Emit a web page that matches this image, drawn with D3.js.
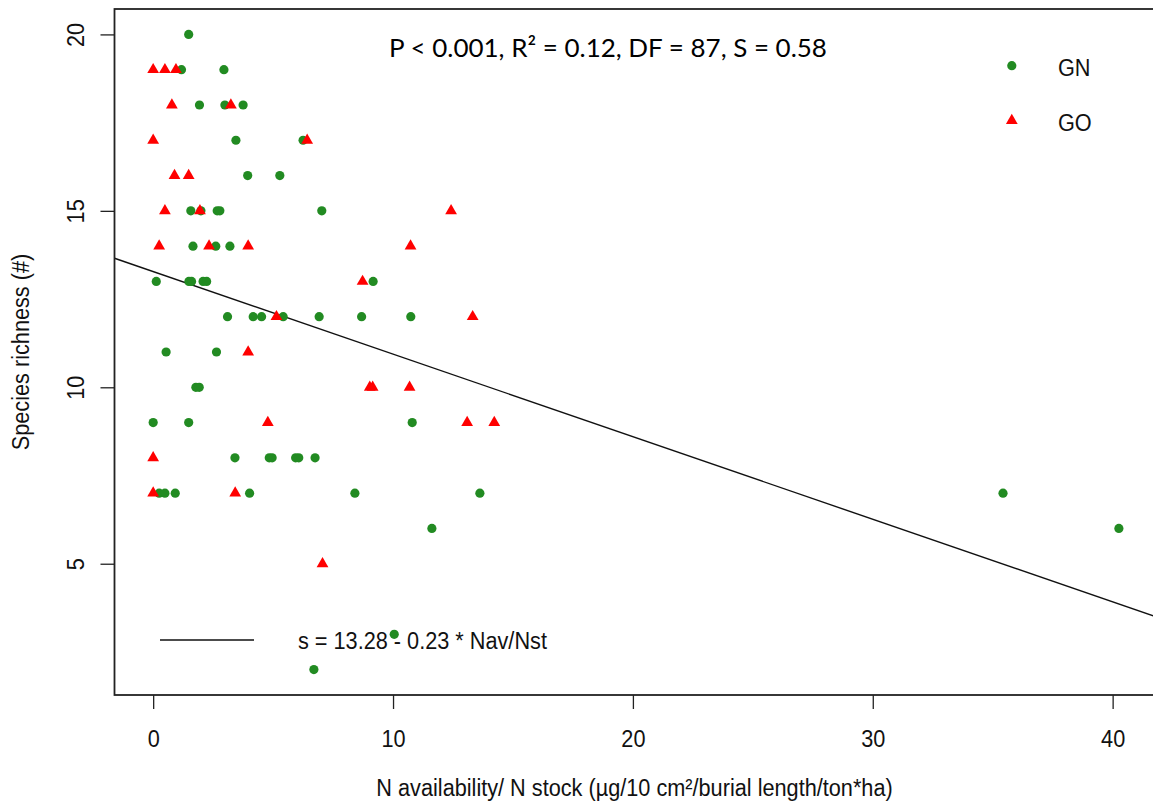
<!DOCTYPE html>
<html>
<head>
<meta charset="utf-8">
<script src="https://cdn.jsdelivr.net/npm/d3@7"></script>
<style>
  html, body { margin: 0; padding: 0; background: #fff; }
  svg { display: block; }
</style>
</head>
<body>
<svg id="chart" width="1153" height="809"></svg>
<script>
// ---- data ----
const gnX = [1.48, 1.18, 2.95, 1.93, 2.99, 3.75, 3.45, 6.25, 3.94, 5.28,
             1.57, 1.99, 2.67, 2.78, 7.03, 1.66, 2.61, 3.20,
             0.13, 1.49, 1.60, 2.08, 2.23, 9.17,
             3.10, 4.17, 4.52, 5.42, 6.92, 8.69, 10.74,
             0.54, 2.64, 1.78, 1.92, 0.00, 1.48, 10.80,
             3.41, 4.84, 4.96, 5.94, 6.07, 6.75,
             0.25, 0.49, 0.92, 4.02, 8.41, 13.62, 35.43,
             11.62, 40.26, 10.05, 6.70];
const gnY = [20, 19, 19, 18, 18, 18, 17, 17, 16, 16,
             15, 15, 15, 15, 15, 14, 14, 14,
             13, 13, 13, 13, 13, 13,
             12, 12, 12, 12, 12, 12, 12,
             11, 11, 10, 10, 9, 9, 9,
             8, 8, 8, 8, 8, 8,
             7, 7, 7, 7, 7, 7, 7,
             6, 6, 3, 2];
const goX = [0.00, 0.49, 0.95, 0.78, 3.24, 0.00, 6.42, 0.89, 1.48,
             0.49, 1.95, 12.42, 0.25, 2.33, 3.96, 10.73,
             8.73, 5.14, 13.32, 3.96, 9.03, 9.15, 10.69,
             4.78, 13.09, 14.22, 0.00, 0.00, 3.42, 7.06];
const goY = [19, 19, 19, 18, 18, 17, 17, 16, 16,
             15, 15, 15, 14, 14, 14, 14,
             13, 12, 12, 11, 10, 10, 10,
             9, 9, 9, 8, 7, 7, 5];
const groups = ["GN", "GO"];
const xTicks = [0, 10, 20, 30, 40];
const yTicks = [5, 10, 15, 20];
const regIntercept = 13.28;
const regSlope = -0.234;
const statsText = "P < 0.001, R\u00B2 = 0.12, DF = 87, S = 0.58";
const eqText = "s = 13.28 - 0.23 * Nav/Nst";
const xTitle = "N availability/ N stock (\u00B5g/10 cm\u00B2/burial length/ton*ha)";
const yTitle = "Species richness (#)";

(function () {
// ---- layout ----
const svg = d3.select("#chart");
const pL = 114.5, pR = 1158.5, pT = 9, pB = 695;
const x = d3.scaleLinear().domain([-1.612, 41.912]).range([pL, pR]);
const y = d3.scaleLinear().domain([1.28, 20.72]).range([pB, pT]);
const rFont = "'Liberation Sans', Arial, sans-serif";
const fs = 21.7;
const stretch = 1.1;   // R text in the picture is slightly taller than wide
const green = "#228B22", red = "#FF0000";

function rText(sel, ax, ay, rot, anchor, str) {
  return sel.append("text")
    .attr("transform", `translate(${ax},${ay}) rotate(${rot}) scale(1,${stretch})`)
    .attr("text-anchor", anchor).attr("font-family", rFont).attr("font-size", fs)
    .attr("fill", "#111").text(str);
}

// axes
const xAxis = svg.append("g").attr("transform", `translate(0,${pB})`)
  .call(d3.axisBottom(x).tickValues(xTicks).tickSize(14).tickPadding(0).tickFormat(d3.format("d")));
xAxis.select(".domain").remove();
xAxis.selectAll("line").attr("stroke", "#222").attr("stroke-width", 1.3);
xAxis.selectAll("text").attr("font-family", rFont).attr("font-size", fs)
  .attr("fill", "#111").attr("dy", null).attr("y", 0)
  .attr("transform", `translate(0,${746.5 - pB}) scale(1,${stretch})`);

const yAxis = svg.append("g").attr("transform", `translate(${pL},0)`)
  .call(d3.axisLeft(y).tickValues(yTicks).tickSize(14).tickFormat(d3.format("d")));
yAxis.select(".domain").remove();
yAxis.selectAll("line").attr("stroke", "#222").attr("stroke-width", 1.3);
yAxis.selectAll("text").attr("font-family", rFont).attr("font-size", fs)
  .attr("fill", "#111").attr("x", null).attr("dy", null)
  .attr("text-anchor", "middle")
  .attr("transform", `translate(${83.5 - pL},0) rotate(-90) scale(1,${stretch})`);

// regression line (clipped to plot region)
svg.append("clipPath").attr("id", "plotclip").append("rect")
  .attr("x", pL).attr("y", pT).attr("width", pR - pL).attr("height", pB - pT);
const xd = x.domain();
svg.append("line")
  .attr("clip-path", "url(#plotclip)")
  .attr("x1", x(xd[0])).attr("y1", y(regIntercept + regSlope * xd[0]))
  .attr("x2", x(xd[1])).attr("y2", y(regIntercept + regSlope * xd[1]))
  .attr("stroke", "#111").attr("stroke-width", 1.4);

// points
const gn = gnX.map((v, i) => ({ x: v, y: gnY[i] }));
const go = goX.map((v, i) => ({ x: v, y: goY[i] }));
svg.append("g").selectAll("circle").data(gn).join("circle")
  .attr("cx", d => x(d.x)).attr("cy", d => y(d.y)).attr("r", 4.6)
  .attr("fill", green);
const tri = d3.symbol().type(d3.symbolTriangle).size(60);
svg.append("g").selectAll("path").data(go).join("path")
  .attr("d", tri).attr("transform", d => `translate(${x(d.x)},${y(d.y)})`)
  .attr("fill", red);

// plot box
svg.append("rect").attr("x", pL).attr("y", pT)
  .attr("width", pR - pL).attr("height", pB - pT)
  .attr("fill", "none").attr("stroke", "#222").attr("stroke-width", 1.8);

// axis titles
rText(svg, (pL + pR) / 2 - 2, 796, 0, "middle", xTitle);
rText(svg, 28.5, (pT + pB) / 2, -90, "middle", yTitle);

// group legend (top right)
const legX = 1011.8, legTextX = 1058;
const legY = [65.7, 120.5];
svg.append("circle").attr("cx", legX).attr("cy", legY[0]).attr("r", 4.6).attr("fill", green);
svg.append("path").attr("d", tri).attr("transform", `translate(${legX},${legY[1]})`).attr("fill", red);
groups.forEach((g, i) => rText(svg, legTextX, legY[i] + 10.5, 0, "start", g));

// regression legend (bottom left)
svg.append("line").attr("x1", 160).attr("x2", 254).attr("y1", 640).attr("y2", 640)
  .attr("stroke", "#111").attr("stroke-width", 1.4);
rText(svg, 298, 649, 0, "start", eqText);

// stats annotation (fitted to the reference width)
const st = svg.append("text").attr("x", 389).attr("y", 57)
  .attr("font-family", "Lato, 'Open Sans', sans-serif").attr("font-size", 20)
  .attr("fill", "#000").text(statsText);
const w = st.node().getComputedTextLength();
st.attr("font-size", 20 * 438 / w);
})();
</script>
</body>
</html>
